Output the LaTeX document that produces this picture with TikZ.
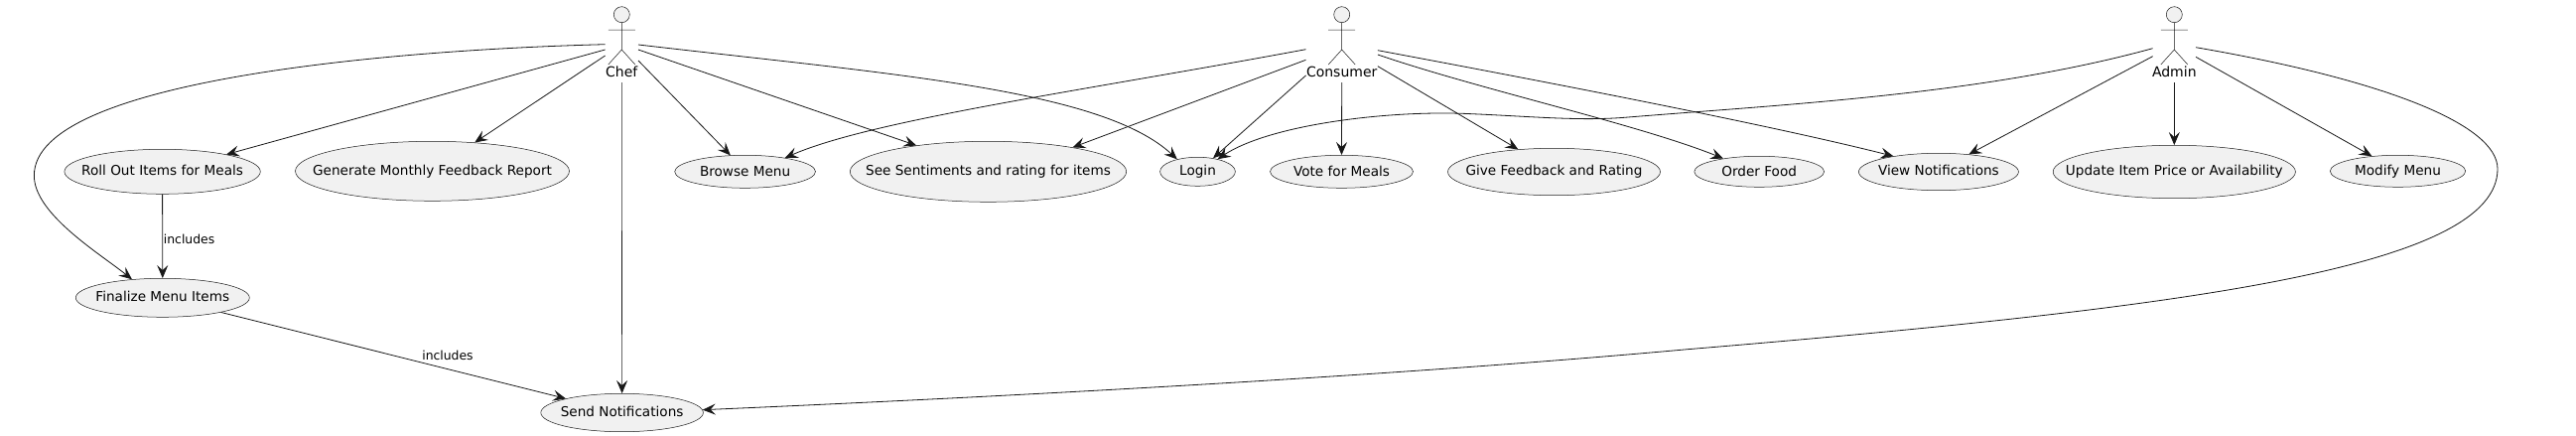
\documentclass[tikz,border=0pt]{standalone}
\usepackage{fontspec}
\setmainfont{DejaVu Sans}
\usetikzlibrary{shapes.geometric,arrows.meta}
\definecolor{umlline}{HTML}{181818}
\definecolor{umlfill}{HTML}{F1F1F1}
\newcommand{\ut}[1]{\smash{\raisebox{-3.8pt}{\makebox[0pt]{#1}}}}
\newcommand{\utl}[1]{\smash{\raisebox{-4.6pt}{\makebox[0pt]{#1}}}}
\tikzset{
  usecase/.style={ellipse,draw=umlline,fill=umlfill,line width=0.5pt,inner sep=0pt,font=\fontsize{13.6pt}{16pt}\selectfont,text=black},
  actorbox/.style={rectangle,inner sep=0pt,minimum height=77pt},
  actorlabel/.style={anchor=base,inner sep=0pt,font=\fontsize{14pt}{16pt}\selectfont,text=black},
  actorline/.style={draw=umlline,line width=0.5pt},
  link/.style={draw=umlline,line width=0.8pt,-{Stealth[length=13pt,width=11pt,inset=5pt]}},
  edgetext/.style={inner sep=0pt,anchor=base,font=\fontsize{12.4pt}{15pt}\selectfont,text=black}
}
\begin{document}
\begin{tikzpicture}[x=1pt,y=-1pt]
\useasboundingbox (0,0) rectangle (2595,439);
\fill[white] (0,0) rectangle (2595,439);
% actors
\foreach \px/\nm/\bw/\txt in {626.3/chef/33/Chef,1351.7/consumer/72/Consumer,2190.3/admin/43/Admin}{
  \draw[actorline,fill=umlfill] (\px,14.7) circle (8);
  \draw[actorline] (\px,22.7) -- (\px,50) (\px-13.5,30) -- (\px+13.5,30) (\px-13.5,65) -- (\px,50) -- (\px+13.5,65);
  \node[actorbox,minimum width=\bw pt] (\nm) at (\px,44.5) {};
  \node[actorlabel] (\nm label) at (\px,77.7) {\txt};
}
% use cases
\node[usecase,minimum width=197.4pt,minimum height=45pt] (roll) at (163.6,172.8) {\ut{Roll Out Items for Meals}};
\node[usecase,minimum width=276pt,minimum height=60pt] (generate) at (435.5,172.3) {\ut{Generate Monthly Feedback Report}};
\node[usecase,minimum width=141.8pt,minimum height=33pt] (browse) at (750.6,172.8) {\utl{Browse Menu}};
\node[usecase,minimum width=175pt,minimum height=39pt] (finalize) at (163.8,299.8) {\ut{Finalize Menu Items}};
\node[usecase,minimum width=163.6pt,minimum height=38.4pt] (send) at (626.6,415.5) {\ut{Send Notifications}};
\node[usecase,minimum width=278.4pt,minimum height=61pt] (see) at (995.5,172.8) {\ut{See Sentiments and rating for items}};
\node[usecase,minimum width=75.8pt,minimum height=29pt] (login) at (1206.5,172.8) {\ut{Login}};
\node[usecase,minimum width=144pt,minimum height=33pt] (vote) at (1351.5,172.8) {\utl{Vote for Meals}};
\node[usecase,minimum width=214pt,minimum height=47.4pt] (give) at (1565.5,173) {\ut{Give Feedback and Rating}};
\node[usecase,minimum width=130.8pt,minimum height=31pt] (order) at (1772.2,172.8) {\utl{Order Food}};
\node[usecase,minimum width=161pt,minimum height=37.4pt] (view) at (1952.9,173) {\ut{View Notifications}};
\node[usecase,minimum width=244.2pt,minimum height=53.4pt] (update) at (2190.3,173) {\ut{Update Item Price or Availability}};
\node[usecase,minimum width=136.4pt,minimum height=32pt] (modify) at (2415.5,172.3) {\utl{Modify Menu}};
% chef links
\draw[link] ([yshift=-0.2pt]chef.west) .. controls (400,50) and (34,80) .. (34.4,176.7) .. controls (34,215) and (100,255) .. (finalize.149.6);
\draw[link] ([yshift=-5.5pt]chef.west) -- (roll.15.5);
\draw[link] ([yshift=-11.5pt]chef.west) -- (generate.34.6);
\draw[link,line width=0.6pt] (chef.south) -- (send.north);
\draw[link] ([yshift=-16.5pt]chef.east) -- (browse.132.7);
\draw[link] ([yshift=-5.5pt]chef.east) -- (see.160.6);
\draw[link] ([yshift=-0.5pt]chef.east) .. controls (900,75) and (1110,90) .. (login.149.7);
% consumer links
\draw[link] ([yshift=-5.2pt]consumer.west) .. controls (1100,90) and (880,120) .. (browse.19.2);
\draw[link] ([yshift=-15.8pt]consumer.west) -- (see.16.8);
\draw[link] ([yshift=-31.5pt]consumer.west) -- (login.41.6);
\draw[link] (consumer.south) -- (vote.north);
\draw[link] ([yshift=-22.2pt]consumer.east) -- (give.148.6);
\draw[link] ([yshift=-10.5pt]consumer.east) .. controls (1490,90) and (1650,125) .. (order.160.2);
\draw[link] ([yshift=-6.2pt]consumer.east) .. controls (1550,81) and (1780,125) .. (view.161.7);
% admin links
\draw[link] ([yshift=-4.2pt]admin.west) .. controls (2000,95) and (1800,105) .. (1636.5,118.3) .. controls (1590,122) and (1540,117) .. (1478,114.5) .. controls (1400,111) and (1280,125) .. (login.32);
\draw[link] ([yshift=-12.2pt]admin.west) -- (view.30.3);
\draw[link] (admin.south) -- (update.north);
\draw[link] ([yshift=-12.8pt]admin.east) -- (modify.150);
\draw[link] ([yshift=-3.2pt]admin.east) .. controls (2400,80) and (2516,125) .. (2516,170) .. controls (2516,270) and (2200,310) .. (1700,351.7) .. controls (1400,379) and (1000,400) .. (send.2.7);
% includes
\draw[link] (roll.south) -- (finalize.north);
\draw[link] (finalize.-14.9) -- (send.166.3);
\node[edgetext] (inca) at (190.6,245.7) {includes};
\node[edgetext] (incb) at (451,362.7) {includes};
\end{tikzpicture}
\end{document}
